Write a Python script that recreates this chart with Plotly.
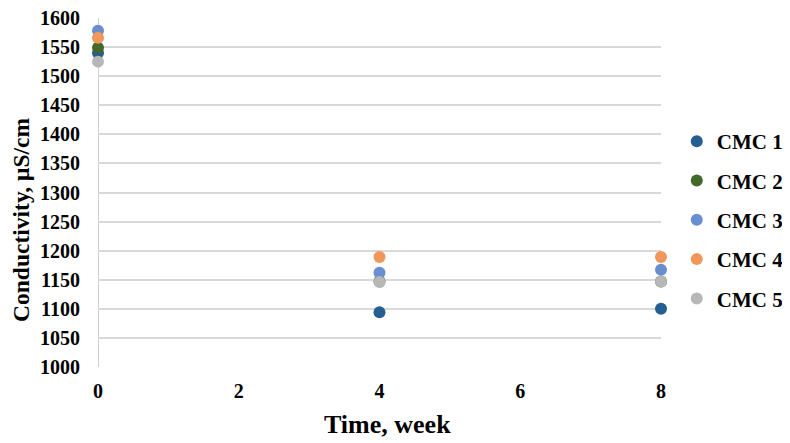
import plotly.graph_objects as go

weeks = [0, 4, 8]
series_names = ["CMC 1", "CMC 2", "CMC 3", "CMC 4", "CMC 5"]
cmc1 = [1540, 1094, 1100]
cmc2 = [1549, 1147, 1147]
cmc3 = [1578, 1162, 1167]
cmc4 = [1566, 1189, 1189]
cmc5 = [1525, 1146, 1147]
values = [cmc1, cmc2, cmc3, cmc4, cmc5]
colors = ["#255E91", "#43682B", "#698ED0", "#F1975A", "#B7B7B7"]
y_ticks = list(range(1000, 1601, 50))
x_ticks = [0, 2, 4, 6, 8]

FONT = "Liberation Serif"

fig = go.Figure()
for name, vals, col in zip(series_names, values, colors):
    fig.add_trace(go.Scatter(
        x=weeks, y=vals, mode="markers", name=name, legendgroup=name,
        marker=dict(size=12, color=col),
        cliponaxis=False,
    ))

fig.update_layout(
    width=790, height=443,
    margin=dict(l=90, r=137, t=10, b=84, autoexpand=False),
    paper_bgcolor="white", plot_bgcolor="white",
    font=dict(family=FONT, size=20, color="black"),
    showlegend=True,
    legend=dict(
        x=1.028, xanchor="left", y=0.421, yanchor="middle",
        font=dict(family=FONT, size=21, color="black", weight="bold"),
        traceorder="grouped", tracegroupgap=9,
        itemsizing="constant",
    ),
    xaxis=dict(
        range=[0, 8], tickvals=x_ticks, showgrid=False, zeroline=False,
        showline=False, automargin=False, ticklabeloverflow="allow",
        tickfont=dict(family=FONT, size=20, weight="bold"),
        ticklabelstandoff=10,
    ),
    yaxis=dict(
        range=[1000, 1600], tickvals=y_ticks, showgrid=True, gridcolor="#D9D9D9",
        gridwidth=1.5, zeroline=False, showline=False, automargin=False,
        ticklabeloverflow="allow",
        tickfont=dict(family=FONT, size=20, weight="bold"),
        ticklabelstandoff=17,
    ),
    annotations=[
        dict(text="<b>Conductivity, μS/cm</b>", textangle=-90, xref="paper", yref="paper",
             x=-0.137, y=0.421, xanchor="center", yanchor="middle", showarrow=False,
             font=dict(family=FONT, size=23.5, color="black")),
        dict(text="<b>Time, week</b>", xref="paper", yref="paper",
             x=0.515, y=-0.166, xanchor="center", yanchor="middle", showarrow=False,
             font=dict(family=FONT, size=26, color="black")),
    ],
)
fig.add_shape(type="line", xref="x", yref="paper", x0=0, x1=0, y0=0, y1=1,
              line=dict(color="#BFBFBF", width=1.5), layer="below")

fig.write_html("out.html")
